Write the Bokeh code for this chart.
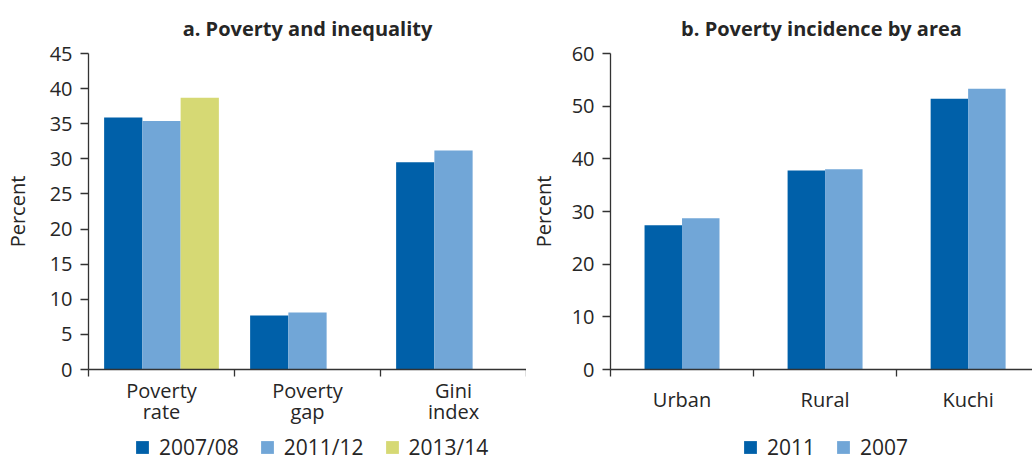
from bokeh.plotting import figure
from bokeh.models import Range1d, FixedTicker, Legend, LegendItem
from bokeh.layouts import row, column
from bokeh.embed import file_html
from bokeh.resources import INLINE

# ---------------- data ----------------
categories_a = ["Poverty\nrate", "Poverty\ngap", "Gini\nindex"]
series_a = ["2007/08", "2011/12", "2013/14"]
values_a_2007_08 = [35.9, 7.7, 29.5]
values_a_2011_12 = [35.4, 8.1, 31.2]
values_a_2013_14 = [38.7, None, None]
yticks_a = [0, 5, 10, 15, 20, 25, 30, 35, 40, 45]

categories_b = ["Urban", "Rural", "Kuchi"]
series_b = ["2011", "2007"]
values_b_2011 = [27.4, 37.8, 51.4]
values_b_2007 = [28.7, 38.0, 53.3]
yticks_b = [0, 10, 20, 30, 40, 50, 60]

# ---------------- style ----------------
FONT = "Open Sans"
TXT = "#262626"
AX = "#333333"
DARK = "#0060A9"
LIGHT = "#71A6D7"
YELLOW = "#D6D974"
MAIN_H = 431
LEG_H = 30


def make_panel(title, cats, series, values, colors, yticks, x_end, width,
               border_left, ylabel_standoff, label_standoff_x):
    p = figure(width=width, height=MAIN_H, output_backend="svg", toolbar_location=None,
               x_range=Range1d(0, x_end), y_range=Range1d(yticks[0], yticks[-1]),
               min_border_left=border_left, min_border_right=0,
               min_border_top=53, min_border_bottom=62)
    p.outline_line_color = None
    p.grid.visible = False
    p.background_fill_color = "white"
    p.border_fill_color = "white"

    p.title.text = title
    p.title.align = "center"
    p.title.text_font = FONT
    p.title.text_font_size = "20px"
    p.title.text_font_style = "bold"
    p.title.text_color = TXT
    p.title.standoff = 23

    n = len(series)
    w = 0.262
    for j, (name, vals, col) in enumerate(zip(series, values, colors)):
        xs = [i + 0.5 + (j - (n - 1) / 2) * w for i, v in enumerate(vals) if v is not None]
        tops = [v for v in vals if v is not None]
        p.vbar(x=xs, top=tops, width=w, bottom=0, fill_color=col, line_color=None)

    # y axis
    ya = p.yaxis[0]
    ya.ticker = FixedTicker(ticks=yticks, minor_ticks=[])
    ya.axis_label = "Percent"
    ya.axis_label_text_font = FONT
    ya.axis_label_text_font_size = "20px"
    ya.axis_label_text_font_style = "normal"
    ya.axis_label_text_color = TXT
    ya.axis_label_standoff = ylabel_standoff
    ya.major_label_text_font = FONT
    ya.major_label_text_font_size = "20px"
    ya.major_label_text_color = TXT
    ya.major_label_standoff = 8
    ya.major_tick_out = 8
    ya.major_tick_in = 0
    ya.axis_line_color = AX
    ya.axis_line_width = 1.3
    ya.major_tick_line_color = AX
    ya.major_tick_line_width = 1.3

    # x axis: labels at category centres, ticks at category boundaries
    xa = p.xaxis[0]
    centers = [i + 0.5 for i in range(len(cats))]
    bounds = [float(i) for i in range(len(cats) + 1)]
    xa.ticker = FixedTicker(ticks=centers, minor_ticks=bounds)
    xa.major_label_overrides = {c: lab for c, lab in zip(centers, cats)}
    xa.major_label_text_font = FONT
    xa.major_label_text_font_size = "20px"
    xa.major_label_text_color = TXT
    xa.major_label_text_line_height = 0.78
    xa.major_label_standoff = label_standoff_x
    xa.major_tick_line_color = None
    xa.minor_tick_out = 7
    xa.minor_tick_in = 0
    xa.minor_tick_line_color = AX
    xa.minor_tick_line_width = 1.3
    xa.axis_line_color = AX
    xa.axis_line_width = 1.3
    return p


def make_legend_fig(series, colors, width, loc):
    f = figure(width=width, height=LEG_H, output_backend="svg", toolbar_location=None,
               x_axis_location=None, y_axis_location=None,
               x_range=Range1d(0, 1), y_range=Range1d(0, 1),
               min_border=0)
    f.outline_line_color = None
    f.grid.visible = False
    items = []
    for name, col in zip(series, colors):
        # legend proxy only: a NaN bar draws nothing but gives the legend its swatch
        r = f.vbar(x=[float("nan")], top=[float("nan")], width=0.1, bottom=0,
                   fill_color=col, line_color=None)
        items.append(LegendItem(label=name, renderers=[r]))
    leg = Legend(items=items, orientation="horizontal", location=loc)
    leg.glyph_width = 16
    leg.glyph_height = 16
    leg.label_standoff = 9
    leg.spacing = 20
    leg.padding = 0
    leg.margin = 0
    leg.label_text_font = FONT
    leg.label_text_font_size = "21px"
    leg.label_text_color = TXT
    leg.border_line_color = None
    leg.background_fill_alpha = 0
    f.add_layout(leg, "center")
    return f


pa = make_panel("a. Poverty and inequality", categories_a, series_a,
                [values_a_2007_08, values_a_2011_12, values_a_2013_14],
                [DARK, LIGHT, YELLOW], yticks_a, 3, 526, 88, 16, 0)
pb = make_panel("b. Poverty incidence by area", categories_b, series_b,
                [values_b_2011, values_b_2007],
                [DARK, LIGHT], yticks_b, 2.95, 506, 81, 12, 9)

la = make_legend_fig(series_a, [DARK, LIGHT, YELLOW], 526, (134, 0))
lb = make_legend_fig(series_b, [DARK, LIGHT], 506, (216, 0))

layout = column(row(pa, pb), row(la, lb))
open("out.html", "w").write(file_html(layout, INLINE))
